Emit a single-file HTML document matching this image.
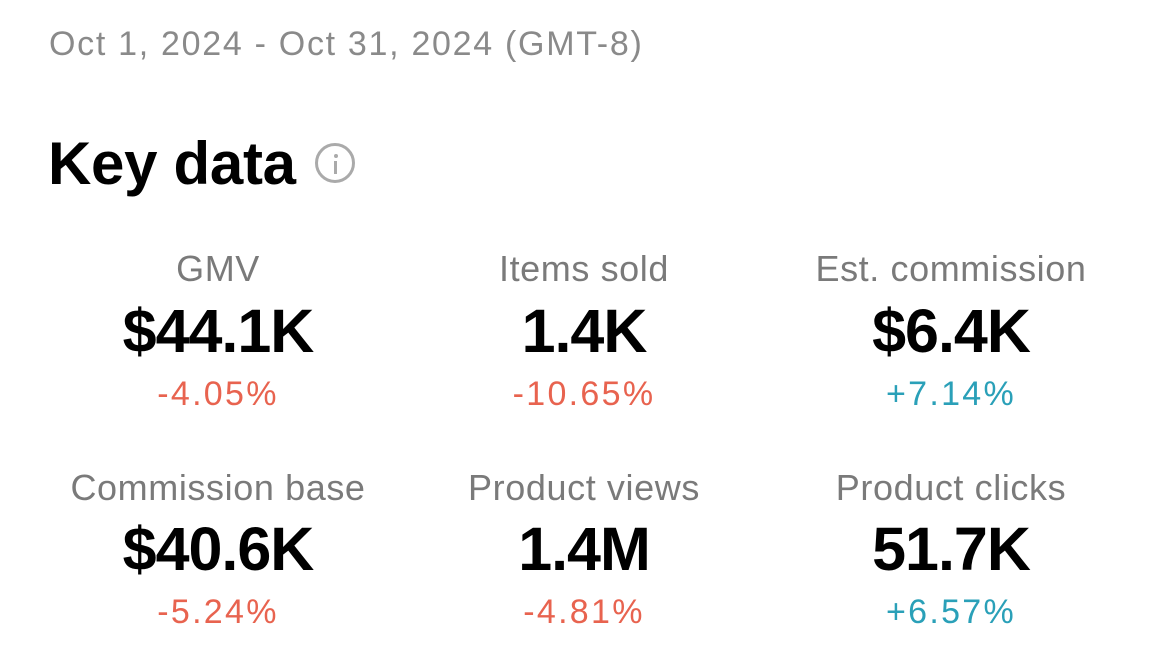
<!DOCTYPE html>
<html><head><meta charset="utf-8"><style>
body{margin:0;width:1170px;height:669px;background:#fff;font-family:"Liberation Sans",sans-serif;position:relative;overflow:hidden}
.a{position:absolute;white-space:nowrap}
.hdr{left:49px;top:25px;font-size:34px;color:#8a8a8a;letter-spacing:1.7px}
.kd{left:48px;top:129px;font-size:60px;font-weight:bold;color:#000;letter-spacing:-0.3px}
.info{left:315px;top:143px;width:40px;height:40px;border:3px solid #aaa;border-radius:50%;box-sizing:border-box}
.info:before{content:"";position:absolute;left:15.5px;top:8px;width:4px;height:4px;background:#aaa;border-radius:50%}
.info:after{content:"";position:absolute;left:16px;top:15px;width:3px;height:13px;background:#aaa}
.c{position:absolute;width:400px;text-align:center;margin-left:-200px}
.l{font-size:36px;color:#7a7a7a;letter-spacing:0.6px}
.v{font-size:61px;font-weight:bold;color:#000;letter-spacing:-1px}
.p{font-size:34px;letter-spacing:2.3px}
.r{color:#e8634f}.g{color:#2aa0b8}
</style></head><body>
<div class="a hdr">Oct 1, 2024 - Oct 31, 2024 (GMT-8)</div>
<div class="a kd">Key data</div>
<div class="a info"></div>

<div class="c l" style="left:218px;top:248px">GMV</div>
<div class="c v" style="left:218px;top:296px">$44.1K</div>
<div class="c p r" style="left:218px;top:375px">-4.05%</div>

<div class="c l" style="left:584px;top:248px">Items sold</div>
<div class="c v" style="left:584px;top:296px">1.4K</div>
<div class="c p r" style="left:584px;top:375px">-10.65%</div>

<div class="c l" style="left:951px;top:248px">Est. commission</div>
<div class="c v" style="left:951px;top:296px">$6.4K</div>
<div class="c p g" style="left:951px;top:375px">+7.14%</div>

<div class="c l" style="left:218px;top:467px">Commission base</div>
<div class="c v" style="left:218px;top:514px">$40.6K</div>
<div class="c p r" style="left:218px;top:593px">-5.24%</div>

<div class="c l" style="left:584px;top:467px">Product views</div>
<div class="c v" style="left:584px;top:514px">1.4M</div>
<div class="c p r" style="left:584px;top:593px">-4.81%</div>

<div class="c l" style="left:951px;top:467px">Product clicks</div>
<div class="c v" style="left:951px;top:514px">51.7K</div>
<div class="c p g" style="left:951px;top:593px">+6.57%</div>
</body></html>
